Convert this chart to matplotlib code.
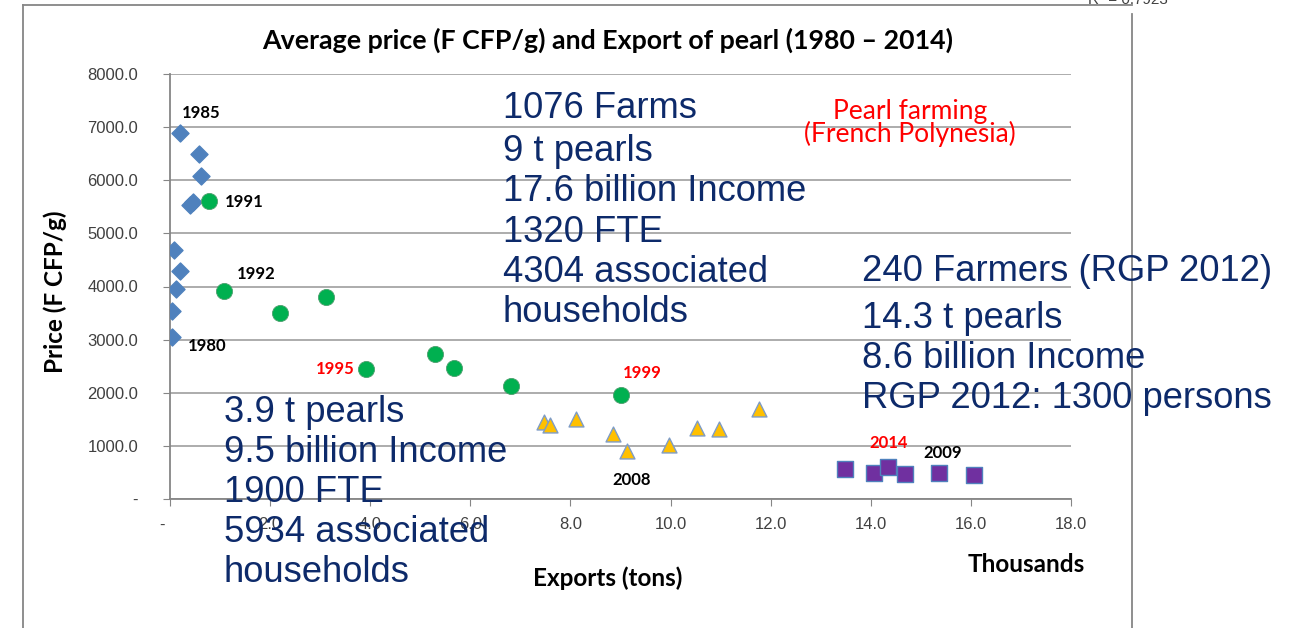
import matplotlib
matplotlib.use('Agg')
import matplotlib.pyplot as plt
from matplotlib.lines import Line2D

# exports (thousand tons) and average price (F CFP/g)
exports_80s = [0.04, 0.04, 0.12, 0.20, 0.08, 0.20, 0.58, 0.62, 0.46, 0.40]
price_80s = [3050, 3540, 3950, 4290, 4690, 6890, 6500, 6080, 5590, 5530]

exports_90s = [0.78, 1.08, 2.20, 3.12, 3.92, 5.30, 5.68, 6.82, 9.00]
price_90s = [5610, 3920, 3500, 3800, 2450, 2730, 2470, 2130, 1960]

exports_00s = [7.48, 7.60, 8.12, 8.86, 9.12, 9.96, 10.52, 10.96, 11.76]
price_00s = [1450, 1390, 1510, 1220, 900, 1020, 1340, 1320, 1690]

exports_10s = [13.48, 14.06, 14.34, 14.68, 15.36, 16.06]
price_10s = [565, 490, 600, 475, 490, 450]

# year labels: (series, index, text, colour, offset in pixels)
year_labels = [
    ('80s', 5, '1985', 'black', (21, 20)),
    ('80s', 0, '1980', 'black', (35, -9)),
    ('90s', 0, '1991', 'black', (35, -1)),
    ('90s', 1, '1992', 'black', (32, 17)),
    ('90s', 4, '1995', 'red', (-31, 0)),
    ('90s', 8, '1999', 'red', (22, 22)),
    ('00s', 4, '2008', 'black', (5, -29)),
    ('10s', 2, '2014', 'red', (1, 24)),
    ('10s', 4, '2009', 'black', (4, 20)),
]

block_1990s = ['3.9 t pearls', '9.5 billion Income', '1900 FTE',
               '5934 associated', 'households']
block_2000s = ['1076 Farms', '9 t pearls', '17.6 billion Income', '1320 FTE',
               '4304 associated', 'households']
block_2012 = ['240 Farmers (RGP 2012)', '14.3 t pearls', '8.6 billion Income',
              'RGP 2012: 1300 persons']

W, H = 1291, 628


def px(x, y):
    return x / W, 1 - y / H


fig = plt.figure(figsize=(12.91, 6.28), dpi=100)
ax = fig.add_axes([170 / W, 1 - 499 / H, 901 / W, 425 / H])

series = {
    '80s': (exports_80s, price_80s),
    '90s': (exports_90s, price_90s),
    '00s': (exports_00s, price_00s),
    '10s': (exports_10s, price_10s),
}

ax.scatter(exports_80s, price_80s, marker='D', s=75, color='#4f81bd',
           edgecolor='#4f81bd', zorder=3)
ax.scatter(exports_90s, price_90s, marker='o', s=135, color='#00b050',
           edgecolor='#4f9f6f', linewidth=0.6, zorder=3)
ax.scatter(exports_00s, price_00s, marker='^', s=115, color='#ffc000',
           edgecolor='#7e9cc6', linewidth=1.0, zorder=3)
ax.scatter(exports_10s, price_10s, marker='s', s=135, color='#7030a0',
           edgecolor='#4f81bd', linewidth=1.0, zorder=3)

for key, i, txt, col, off in year_labels:
    xs, ys = series[key]
    ax.annotate(txt, (xs[i], ys[i]), xytext=off, textcoords='offset pixels',
                ha='center', va='center', fontsize=12, fontweight='bold',
                color=col, family='Lato', zorder=4)

ax.set_xlim(0, 18)
ax.set_ylim(0, 8000)
ax.set_xticks(range(0, 19, 2))
ax.set_yticks(range(0, 8001, 1000))
ax.set_xticklabels(['-   '] + ['%.1f' % v for v in range(2, 19, 2)])
ax.set_yticklabels(['-'] + ['%.1f' % v for v in range(1000, 8001, 1000)])
ax.tick_params(axis='y', length=5, color='#868686', pad=18, labelsize=12,
               labelcolor='#404040')
ax.tick_params(axis='x', length=5, color='#868686', pad=8, labelsize=12,
               labelcolor='#404040')
for lab in ax.get_xticklabels() + ax.get_yticklabels():
    lab.set_family('Liberation Sans')
ax.grid(axis='y', color='#a6a6a6', linewidth=1.3)
ax.set_axisbelow(True)
for side in ['top', 'right']:
    ax.spines[side].set_visible(False)
for side in ['left', 'bottom']:
    ax.spines[side].set_color('#868686')
    ax.spines[side].set_linewidth(1.3)

# titles and axis labels
fig.text(*px(608, 40), 'Average price (F CFP/g) and Export of pearl (1980 \u2013 2014)',
         ha='center', va='center', fontsize=19.3, fontweight='bold', family='Lato')
fig.text(*px(608, 578), 'Exports (tons)', ha='center', va='center',
         fontsize=17.5, fontweight='bold', family='Lato')
fig.text(*px(1026, 565), 'Thousands', ha='center', va='center',
         fontsize=17.5, fontweight='bold', family='Lato')
fig.text(*px(55, 292), 'Price (F CFP/g)', ha='center', va='center',
         rotation=90, fontsize=17.5, fontweight='bold', family='Lato')

fig.text(*px(910, 112), 'Pearl farming', ha='center', va='center',
         fontsize=19, color='red', family='Lato')
fig.text(*px(910, 134), '(French Polynesia)', ha='center', va='center',
         fontsize=19, color='red', family='Lato')

navy = '#0d2a6a'
for lines, x0, ys in [(block_2000s, 503, [108, 152, 192, 233, 273, 313]),
                      (block_2012, 862, [271, 318, 358, 398]),
                      (block_1990s, 224, [412, 452, 493, 533, 573])]:
    for line, y in zip(lines, ys):
        fig.text(*px(x0, y), line, ha='left', va='center', fontsize=26.2,
                 color=navy, family='Liberation Sans')

fig.text(*px(1128, 0), 'R\u00b2 = 0.7923', ha='center', va='center',
         fontsize=11, color='#404040', family='Liberation Sans')

# outer frame of the chart
frame = dict(color='#868686', linewidth=1.3, transform=fig.transFigure)
fig.add_artist(Line2D([23 / W, 23 / W], [1 - 5 / H, 0], **frame))
fig.add_artist(Line2D([23 / W, 1132 / W], [1 - 5 / H, 1 - 5 / H], **frame))
fig.add_artist(Line2D([1132 / W, 1132 / W], [1 - 14 / H, 0], **frame))

plt.savefig('out.png', dpi=100)
plt.close()
